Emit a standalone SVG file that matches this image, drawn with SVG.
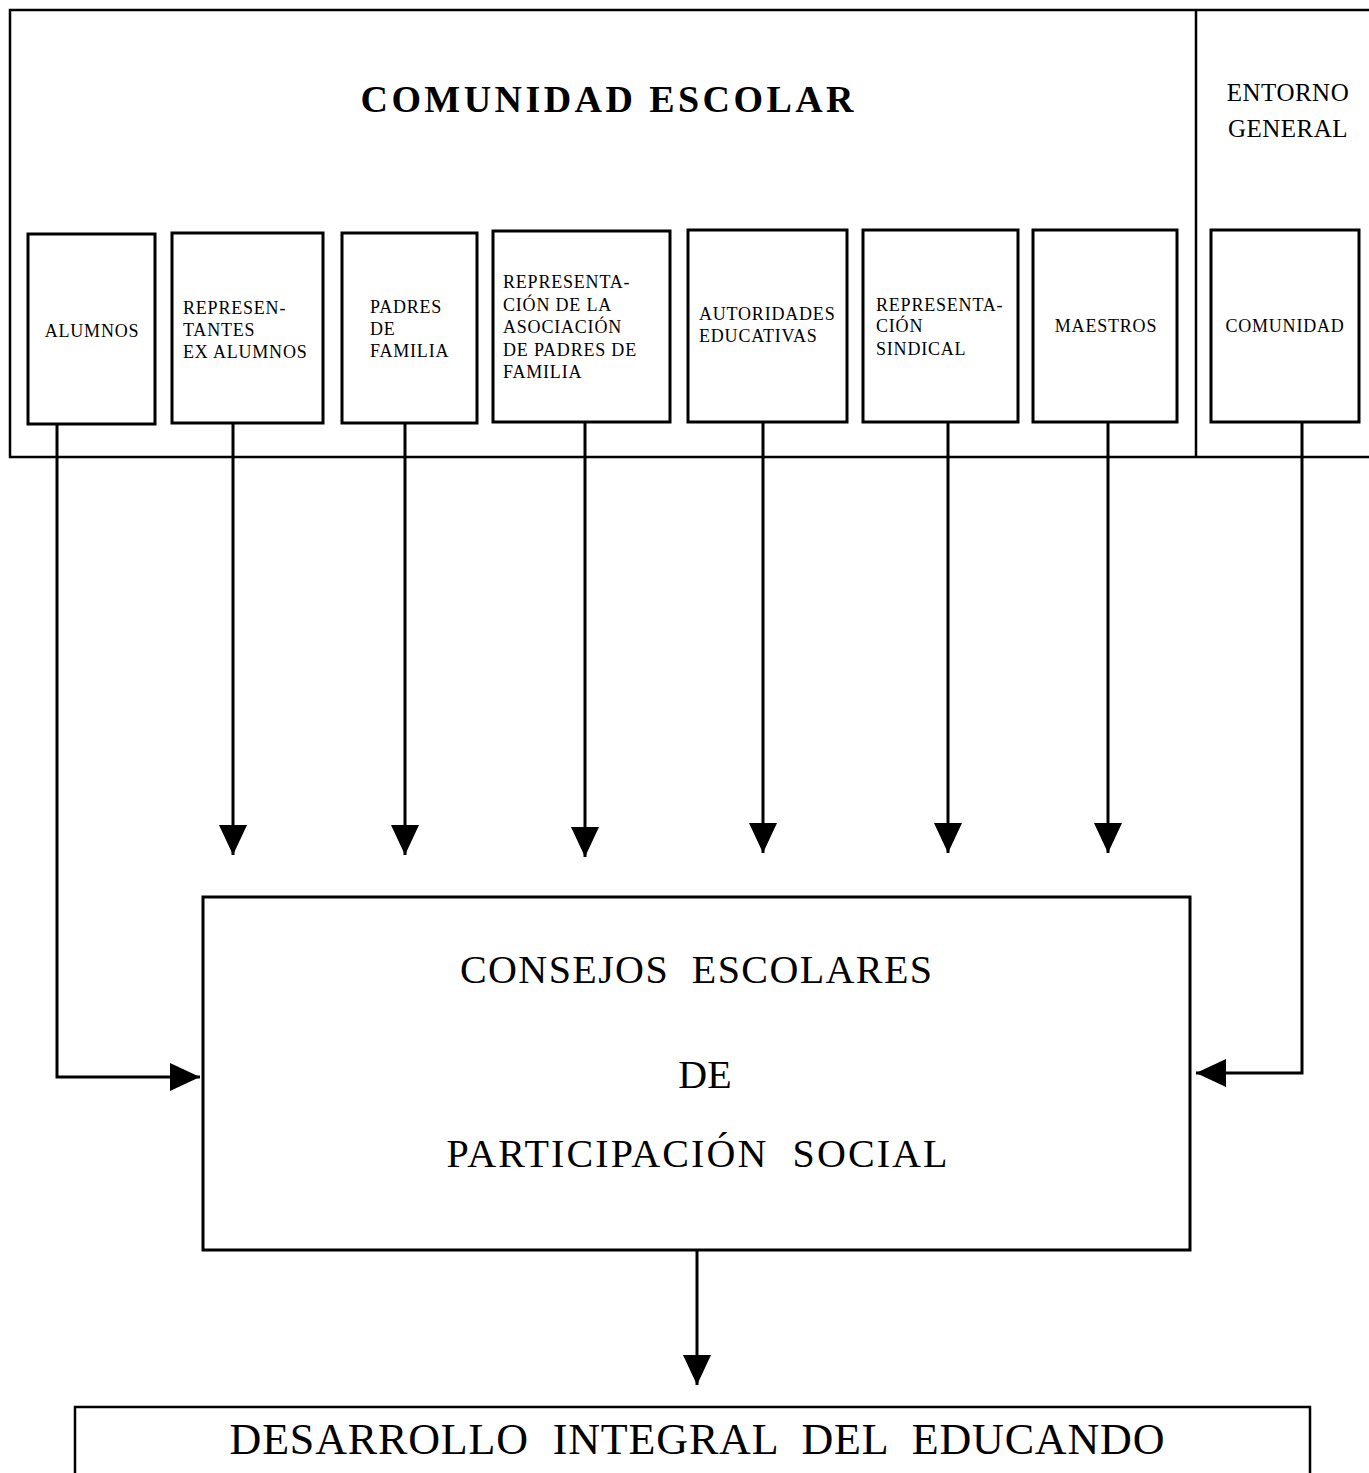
<svg xmlns="http://www.w3.org/2000/svg" width="1369" height="1473" viewBox="0 0 1369 1473">
<style>
.frame{fill:none;stroke:#000;stroke-width:2.5}
.box{fill:#fff;stroke:#000;stroke-width:3}
.conn{fill:none;stroke:#000;stroke-width:3}
.t{font-family:"Liberation Serif","DejaVu Serif",serif;fill:#000}
.s{font-size:18px;letter-spacing:0.8px}
.big{font-size:40px;white-space:pre}
</style>
<defs>
<marker id="ah" markerUnits="userSpaceOnUse" markerWidth="32" markerHeight="30" viewBox="0 0 32 30" refX="30" refY="15" orient="auto">
<polygon points="0,1 30,15 0,29" fill="#000"/>
</marker>
</defs>
<rect width="1369" height="1473" fill="#fff"/>
<g id="frame">
<path class="frame" d="M1369,10 H10 V457 H1369 M1196,10 V457"/>
<text class="t" x="607" y="112" font-size="38" font-weight="bold" text-anchor="middle" textLength="493" lengthAdjust="spacing">COMUNIDAD ESCOLAR</text>
<text class="t" x="1288" y="101" font-size="25" text-anchor="middle" letter-spacing="0.5">ENTORNO</text>
<text class="t" x="1288" y="137" font-size="25" text-anchor="middle" letter-spacing="0.5">GENERAL</text>
</g>
<g id="alumnos"><rect class="box" x="28" y="234" width="127" height="190"/><text class="t s" x="92" y="337" text-anchor="middle">ALUMNOS</text></g>
<g id="exalumnos"><rect class="box" x="172" y="233" width="151" height="190"/><text class="t s" x="183" y="314">REPRESEN-</text><text class="t s" x="183" y="336">TANTES</text><text class="t s" x="183" y="358">EX ALUMNOS</text></g>
<g id="padres"><rect class="box" x="342" y="233" width="135" height="190"/><text class="t s" x="370" y="313">PADRES</text><text class="t s" x="370" y="335">DE</text><text class="t s" x="370" y="357">FAMILIA</text></g>
<g id="asociacion"><rect class="box" x="493" y="231" width="177" height="191"/><text class="t s" x="503" y="288">REPRESENTA-</text><text class="t s" x="503" y="311">CIÓN DE LA</text><text class="t s" x="503" y="333">ASOCIACIÓN</text><text class="t s" x="503" y="356">DE PADRES DE</text><text class="t s" x="503" y="378">FAMILIA</text></g>
<g id="autoridades"><rect class="box" x="688" y="230" width="159" height="192"/><text class="t s" x="699" y="320">AUTORIDADES</text><text class="t s" x="699" y="342">EDUCATIVAS</text></g>
<g id="sindical"><rect class="box" x="863" y="230" width="155" height="192"/><text class="t s" x="876" y="311">REPRESENTA-</text><text class="t s" x="876" y="332">CIÓN</text><text class="t s" x="876" y="355">SINDICAL</text></g>
<g id="maestros"><rect class="box" x="1033" y="230" width="144" height="192"/><text class="t s" x="1106" y="332" text-anchor="middle">MAESTROS</text></g>
<g id="comunidad"><rect class="box" x="1211" y="230" width="148" height="192"/><text class="t s" x="1285" y="332" text-anchor="middle">COMUNIDAD</text></g>
<g id="connectors">
<path class="conn" d="M57,424 V1077 H200" marker-end="url(#ah)"/>
<path class="conn" d="M233,423 V855" marker-end="url(#ah)"/>
<path class="conn" d="M405,423 V855" marker-end="url(#ah)"/>
<path class="conn" d="M585,422 V857" marker-end="url(#ah)"/>
<path class="conn" d="M763,422 V853" marker-end="url(#ah)"/>
<path class="conn" d="M948,422 V853" marker-end="url(#ah)"/>
<path class="conn" d="M1108,422 V853" marker-end="url(#ah)"/>
<path class="conn" d="M1302,422 V1073 H1196" marker-end="url(#ah)"/>
<path class="conn" d="M697,1250 V1385" marker-end="url(#ah)"/>
</g>
<g id="consejos">
<rect class="box" x="203" y="897" width="987" height="353"/>
<text class="t big" x="696" y="983" text-anchor="middle" textLength="472" lengthAdjust="spacing">CONSEJOS  ESCOLARES</text>
<text class="t big" x="705" y="1088" text-anchor="middle">DE</text>
<text class="t big" x="697" y="1167" text-anchor="middle" textLength="501" lengthAdjust="spacing">PARTICIPACIÓN  SOCIAL</text>
</g>
<g id="desarrollo">
<path class="frame" d="M75,1480 V1407 H1310 V1480"/>
<text class="t" x="697" y="1454" font-size="44" text-anchor="middle" textLength="935" lengthAdjust="spacing" style="white-space:pre">DESARROLLO  INTEGRAL  DEL  EDUCANDO</text>
</g>
</svg>
